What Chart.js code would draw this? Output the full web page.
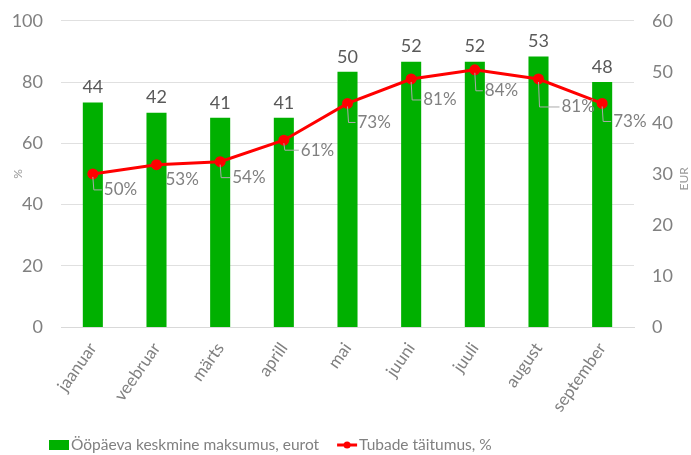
<!DOCTYPE html>
<html>
<head>
<meta charset="utf-8">
<script src="https://cdn.jsdelivr.net/npm/chart.js@4/dist/chart.umd.min.js"></script>
<style>
  html, body { margin: 0; padding: 0; background: #fff; }
  #wrap { width: 691px; height: 455px; position: relative; }
</style>
</head>
<body>
<div id="wrap"><canvas id="chart"></canvas></div>
<script>
const months = ['jaanuar', 'veebruar', 'märts', 'aprill', 'mai', 'juuni', 'juuli', 'august', 'september'];
const priceEur = [44, 42, 41, 41, 50, 52, 52, 53, 48];
const occupancyPct = [50, 53, 54, 61, 73, 81, 84, 81, 73];
const barLabel = 'Ööpäeva keskmine maksumus, eurot';
const lineLabel = 'Tubade täitumus, %';

// where each % label sits relative to its point
const labelShift = [[11, 16], [9, 15], [12, 16], [17, 10], [10, 19], [12, 21], [10, 21], [23, 28], [11, 18]];

const FONT = 'Lato, "Open Sans", sans-serif';
const GREEN = '#00b000';
const RED = '#ff0000';

const labelsPlugin = {
    id: 'labels',
    afterDatasetsDraw(chart) {
        const c = chart.ctx;
        c.save();
        // bar values
        const bars = chart.getDatasetMeta(0).data;
        c.font = '18px ' + FONT;
        c.fillStyle = '#595959';
        c.textAlign = 'center';
        c.textBaseline = 'middle';
        bars.forEach(function(b, i) {
            c.fillText(priceEur[i], b.x, b.y - 15);
        });
        // line values with leader lines
        const pts = chart.getDatasetMeta(1).data;
        c.font = '17px ' + FONT;
        c.textAlign = 'left';
        pts.forEach(function(p, i) {
            const tx = p.x + labelShift[i][0];
            const ty = p.y + labelShift[i][1];
            if (i !== 1) {
                c.strokeStyle = '#aaaaaa';
                c.lineWidth = 1;
                c.beginPath();
                c.moveTo(p.x, p.y + 3);
                c.lineTo(p.x + 1, ty);
                c.lineTo(tx - 2, ty);
                c.stroke();
            }
            c.fillStyle = '#808080';
            c.fillText(occupancyPct[i] + '%', tx, ty);
        });
        c.restore();
    },
    afterDraw(chart) {
        const c = chart.ctx;
        const area = chart.chartArea;
        c.save();
        // axis titles, both reading upward
        c.font = '12px ' + FONT;
        c.fillStyle = '#999999';
        c.textAlign = 'center';
        c.textBaseline = 'middle';
        c.translate(18, (area.top + area.bottom) / 2);
        c.rotate(-Math.PI / 2);
        c.fillText('%', 0, 0);
        c.setTransform(1, 0, 0, 1, 0, 0);
        c.translate(684, (area.top + area.bottom) / 2 + 5);
        c.rotate(-Math.PI / 2);
        c.fillText('EUR', 0, 0);
        c.setTransform(1, 0, 0, 1, 0, 0);

        // legend
        const y = 445;
        c.fillStyle = GREEN;
        c.fillRect(49, y - 5, 20, 10);
        c.font = '15.5px ' + FONT;
        c.fillStyle = '#808080';
        c.textAlign = 'left';
        c.fillText(barLabel, 71, y);
        const w = c.measureText(barLabel).width;
        const lx = 71 + w + 18;
        c.strokeStyle = RED;
        c.lineWidth = 3;
        c.beginPath();
        c.moveTo(lx, y);
        c.lineTo(lx + 20, y);
        c.stroke();
        c.fillStyle = RED;
        c.beginPath();
        c.arc(lx + 10, y, 3.5, 0, Math.PI * 2);
        c.fill();
        c.fillStyle = '#808080';
        c.fillText(lineLabel, lx + 22, y);
        c.restore();
    }
};

const ctx = document.getElementById('chart').getContext('2d');
const chart = new Chart(ctx, {
    type: 'bar',
    data: {
        labels: months,
        datasets: [{
            type: 'bar',
            label: barLabel,
            data: priceEur,
            yAxisID: 'yEur',
            backgroundColor: GREEN,
            barPercentage: 0.63,
            categoryPercentage: 0.5,
            order: 2
        }, {
            type: 'line',
            label: lineLabel,
            data: occupancyPct,
            yAxisID: 'yPct',
            borderColor: RED,
            backgroundColor: RED,
            borderWidth: 3,
            pointRadius: 4,
            tension: 0,
            order: 1
        }]
    },
    options: {
        responsive: true,
        maintainAspectRatio: false,
        animation: false,
        layout: { padding: { top: 6, left: 10, right: 2, bottom: 26 } },
        plugins: {
            legend: { display: false },
            tooltip: { enabled: false }
        },
        scales: {
            x: {
                grid: { display: false },
                border: { display: true, color: '#d9d9d9' },
                ticks: {
                    color: '#808080',
                    font: { family: FONT, size: 17 },
                    maxRotation: 55,
                    minRotation: 55,
                    padding: 4
                },
                afterFit: function(s) { s.height = 102; }
            },
            yPct: {
                position: 'left',
                min: 0,
                max: 100,
                ticks: { stepSize: 20, color: '#808080', font: { family: FONT, size: 18 }, padding: 10 },
                grid: { color: '#e0e0e0', drawTicks: true, tickColor: 'rgba(0,0,0,0)' },
                border: { display: false },
                afterFit: function(s) { s.width = 51; }
            },
            yEur: {
                position: 'right',
                min: 0,
                max: 60,
                ticks: { stepSize: 10, color: '#808080', font: { family: FONT, size: 18 }, padding: 10 },
                grid: { display: false },
                border: { display: false },
                afterFit: function(s) { s.width = 55; }
            }
        }
    },
    plugins: [labelsPlugin]
});
</script>
</body>
</html>
